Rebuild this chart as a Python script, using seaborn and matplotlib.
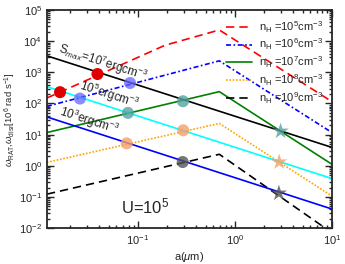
import numpy as np
import pandas as pd
import matplotlib
matplotlib.use('Agg')
import matplotlib.pyplot as plt
import matplotlib.ticker as mticker
import seaborn as sns

# ─── Data ─────────────────────────────────────────────────────────────────────
a_edges = [0.0115, 10.0]
a_knots = [0.0115, 0.69, 10.0]
a_red   = [0.0115, 0.19, 0.69, 10.0]

# rotation rate (RAT) for the five densities
w_n5 = [150, 7400, 22900, 115]
w_n6 = [81, 2340, 11.7]
w_n7 = [11.7, 240, 1.12]
w_n8 = [1.29, 22.9, 0.107]
w_n9 = [0.123, 2.34, 0.0071]

# disruption rate for three tensile strengths
w_s7 = [3390, 3.9]
w_s5 = [347, 0.39]
w_s3 = [37, 0.041]

# intersection markers
circ_a = [0.0157, 0.0382, 0.0252, 0.0828, 0.0788, 0.291, 0.0765, 0.293, 0.289]
circ_w = [231, 883, 144, 455, 50, 118, 5.25, 13.8, 1.32]
circ_c = ['red', 'red', 'blue', 'blue', 'teal', 'teal', 'orange', 'orange', 'gray']
star_a = [2.96, 2.86, 2.84]
star_w = [12.9, 1.32, 0.132]
star_c = ['teal', 'orange', 'gray']

x_ticks = [0.1, 1.0, 10.0]
y_ticks = [1e-2, 1e-1, 1e0, 1e1, 1e2, 1e3, 1e4, 1e5]
legend_labels = [r'n$_{\rm H}$ =10$^5$cm$^{-3}$', r'n$_{\rm H}$ =10$^6$cm$^{-3}$',
                 r'n$_{\rm H}$ =10$^7$cm$^{-3}$', r'n$_{\rm H}$ =10$^8$cm$^{-3}$',
                 r'n$_{\rm H}$ =10$^9$cm$^{-3}$']

# ─── Style ────────────────────────────────────────────────────────────────────
sns.set_style('ticks')
plt.rcParams['font.family'] = ['Liberation Sans', 'DejaVu Sans']
plt.rcParams['mathtext.fontset'] = 'custom'
plt.rcParams['mathtext.rm'] = 'Liberation Sans'
plt.rcParams['mathtext.it'] = 'Liberation Sans:italic'
plt.rcParams['mathtext.bf'] = 'Liberation Sans:bold'

fig = plt.figure(figsize=(3.45, 2.64), dpi=100)
ax = fig.add_axes([0.136, 0.136, 0.826, 0.826])

rat_series = [
    (a_red,   w_n5, 'red',    (0, (5, 3)),           legend_labels[0]),
    (a_knots, w_n6, 'blue',   (0, (3, 1.5, 1, 1.5)), legend_labels[1]),
    (a_knots, w_n7, 'green',  '-',                   legend_labels[2]),
    (a_knots, w_n8, 'orange', (0, (1, 1)),           legend_labels[3]),
    (a_knots, w_n9, 'black',  (0, (5, 3)),           legend_labels[4]),
]
for xs, ys, col, ls, lab in rat_series:
    sns.lineplot(x=xs, y=ys, ax=ax, color=col, linestyle=ls, lw=1.2,
                 label=lab, sort=False, estimator=None)

for ys, col in [(w_s7, 'black'), (w_s5, 'cyan'), (w_s3, 'blue')]:
    sns.lineplot(x=a_edges, y=ys, ax=ax, color=col, lw=1.2,
                 sort=False, estimator=None, legend=False)

marker_colors = {'red': '#e00000', 'blue': '#6464ff', 'teal': '#52a3a0',
                 'orange': '#f5a06a', 'gray': '#555555'}
alphas = {'red': 1.0, 'blue': 0.75, 'teal': 0.8, 'orange': 0.8, 'gray': 0.8}
for xa, yw, c in zip(circ_a, circ_w, circ_c):
    sns.scatterplot(x=[xa], y=[yw], ax=ax, color=marker_colors[c], s=75,
                    alpha=alphas[c], edgecolor='none', legend=False, zorder=5)
for xa, yw, c in zip(star_a, star_w, star_c):
    sns.scatterplot(x=[xa], y=[yw], ax=ax, color=marker_colors[c], s=150,
                    marker='*', alpha=alphas[c], edgecolor='none',
                    legend=False, zorder=5)

ax.set_xscale('log')
ax.set_yscale('log')
ax.set_xlim(0.0115, 10)
ax.set_ylim(1e-2, 1e5)

ax.xaxis.set_major_locator(mticker.FixedLocator(x_ticks))
ax.xaxis.set_major_formatter(mticker.LogFormatterSciNotation())
ax.yaxis.set_major_locator(mticker.FixedLocator(y_ticks))
ax.yaxis.set_major_formatter(mticker.LogFormatterSciNotation())
ax.yaxis.set_minor_locator(mticker.LogLocator(base=10, subs=np.arange(2, 10), numticks=100))
ax.xaxis.set_minor_locator(mticker.LogLocator(base=10, subs=np.arange(2, 10), numticks=100))
ax.xaxis.set_minor_formatter(mticker.NullFormatter())
ax.yaxis.set_minor_formatter(mticker.NullFormatter())
ax.tick_params(which='both', direction='in', top=True, right=True, labelsize=8, width=1)
ax.tick_params(which='major', length=5)
ax.tick_params(which='minor', length=2.5)
for sp in ax.spines.values():
    sp.set_linewidth(1.3)

ax.set_xlabel(r'a($\mu$m)', fontsize=8, labelpad=2)
ax.set_ylabel(r'$\omega_{\rm RAT}$,$\omega_{\rm disr}$[10$^6$ rad s$^{-1}$]', fontsize=6.8, labelpad=1)

# annotations along the disruption lines
ax.text(0.0435, 2000, r'S$_{max}$=10$^7$ergcm$^{-3}$', fontsize=8.5, rotation=-18,
        ha='center', va='center', rotation_mode='anchor')
ax.text(0.0505, 190, r'10$^5$ergcm$^{-3}$', fontsize=8.5, rotation=-18,
        ha='center', va='center', rotation_mode='anchor')
ax.text(0.0315, 28, r'10$^3$ergcm$^{-3}$', fontsize=8.5, rotation=-18,
        ha='center', va='center', rotation_mode='anchor')
ax.text(0.118, 0.05, r'U=10$^5$', fontsize=12, ha='center', va='center')

ax.legend(loc='upper right', frameon=False, fontsize=8, handlelength=2.3,
          labelspacing=0.2, borderaxespad=0.4, handletextpad=0.6)

plt.savefig('out.png', dpi=100)
